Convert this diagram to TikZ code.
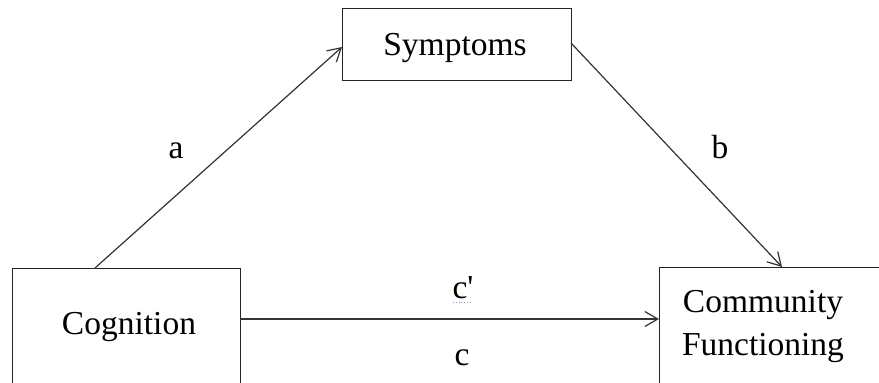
\documentclass[tikz,border=0pt]{standalone}
\usepackage{fontspec}
\setmainfont{Liberation Serif}
\usetikzlibrary{arrows.meta}
\begin{document}
\begin{tikzpicture}[x=1pt,y=-1pt,
  boxstyle/.style={draw=black!85, line width=1.3pt, inner sep=0pt},
  txt/.style={font=\fontsize{33.5}{43}\selectfont, inner sep=0pt, anchor=base},
  conn/.style={draw=black!80, line width=1.2pt, -{Straight Barb[length=13pt,width=15pt,line width=1.2pt]}}]
\useasboundingbox (0,0) rectangle (879,383);
\clip (0,0) rectangle (879,383);
\fill[white] (0,0) rectangle (879,383);
% boxes
\node[boxstyle, minimum width=229pt, minimum height=72pt, anchor=north west] (sym) at (342,8) {};
\node[boxstyle, minimum width=228pt, minimum height=150pt, anchor=north west] (cog) at (12,268) {};
\node[boxstyle, minimum width=260pt, minimum height=150pt, anchor=north west] (com) at (659,267) {};
% texts
\node[txt] (symt) at (455,55) {Symptoms};
\node[txt] (cogt) at (129,334) {Cognition};
\node[txt, align=center, anchor=base] (comt) at (763,355) {Community\\Functioning};
% connectors
\coordinate (astart) at (95,268);
\coordinate (aend) at (342,47);
\coordinate (bstart) at (571,43);
\coordinate (bend) at (782,267);
\coordinate (cstart) at (240,319);
\coordinate (cend) at (659,319);
\draw[conn] (astart) -- (aend);
\draw[conn] (bstart) -- (bend);
\draw[conn] (cstart) -- (cend);
% labels
\node[txt] (la) at (176,158) {a};
\node[txt] (lb) at (720,158) {b};
\node[txt] (lcp) at (463,298) {c\textquotesingle};
\node[txt] (lc) at (462,365) {c};
\coordinate (sq1) at (453,302);
\coordinate (sq2) at (470,302);
\draw[blue!45, line width=0.8pt, dotted] (sq1) -- (sq2);
\end{tikzpicture}
\end{document}
